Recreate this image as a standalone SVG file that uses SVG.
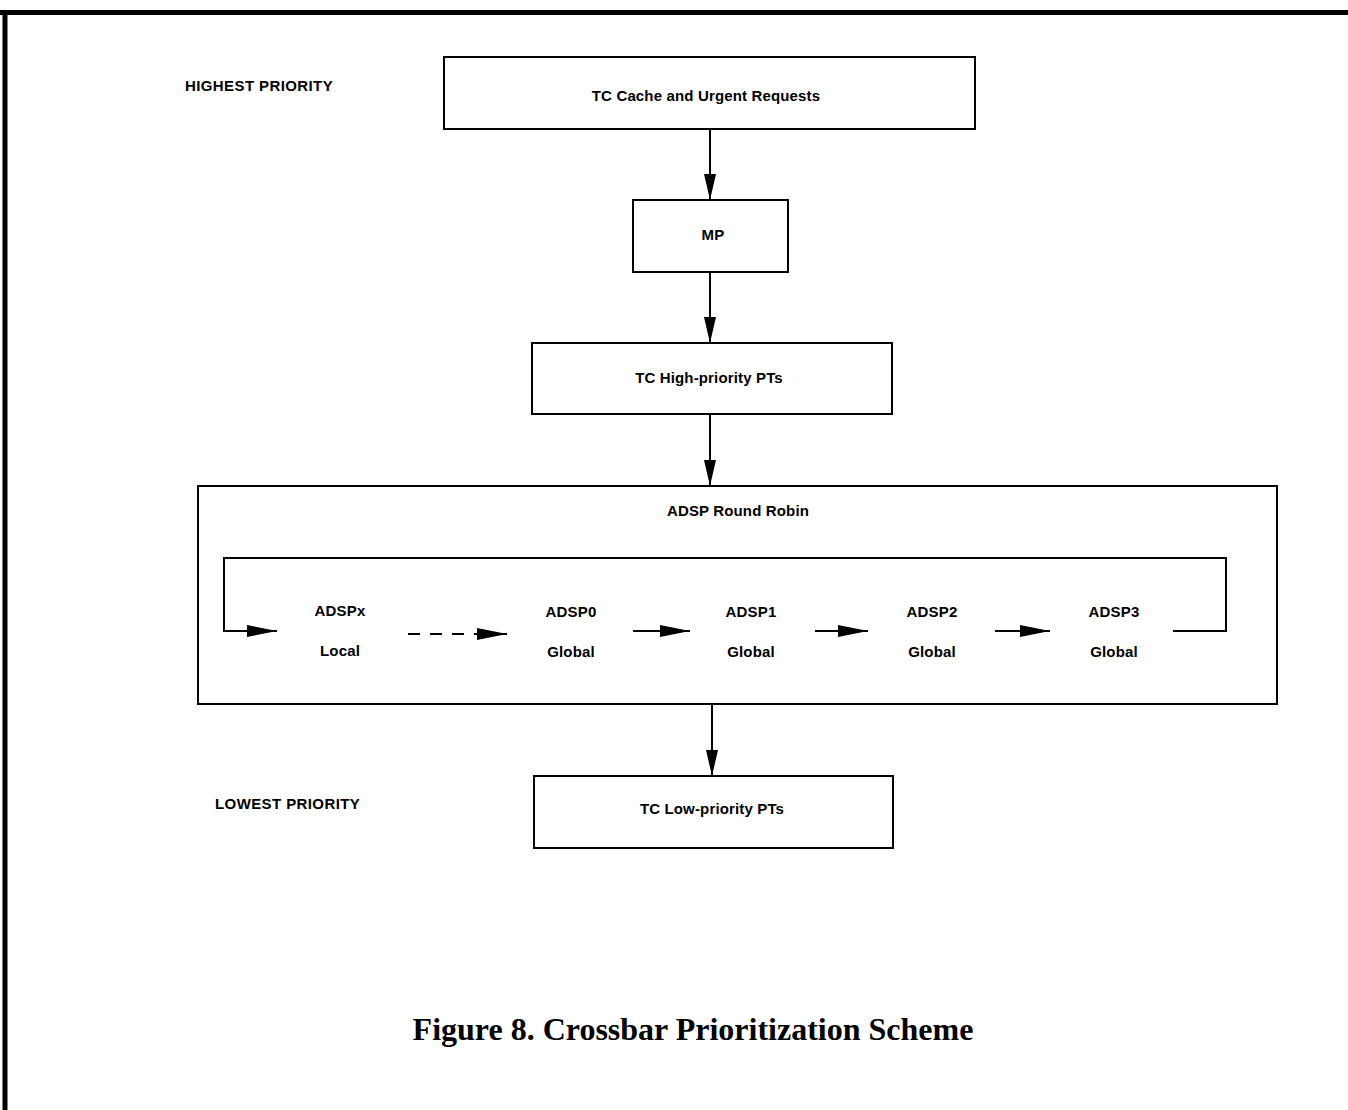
<svg xmlns="http://www.w3.org/2000/svg" width="1348" height="1110" viewBox="0 0 1348 1110">
  <style>
    .box { fill: #fff; stroke: #000; stroke-width: 2; }
    .frame { fill: none; stroke: #000; stroke-width: 2; }
    .lbl { font-family: "Liberation Sans", Arial, sans-serif; font-size: 15px; font-weight: bold; fill: #000; text-anchor: middle; letter-spacing: 0.15px; }
    .side { font-family: "Liberation Sans", Arial, sans-serif; font-size: 15px; font-weight: bold; fill: #000; letter-spacing: 0.4px; }
    .wire { fill: none; stroke: #000; stroke-width: 2; }
    .cap { font-family: "Liberation Serif", "Times New Roman", serif; font-size: 32px; font-weight: bold; fill: #000; text-anchor: middle; }
  </style>
  <defs>
    <marker id="arrow" viewBox="0 0 30 12" refX="30" refY="6" markerWidth="30" markerHeight="12" markerUnits="userSpaceOnUse" orient="auto">
      <path d="M0,0 L30,6 L0,12 Z" fill="#000"/>
    </marker>
    <marker id="arrowV" viewBox="0 0 12 26" refX="6" refY="26" markerWidth="12" markerHeight="26" markerUnits="userSpaceOnUse" orient="0">
      <path d="M0,0 L12,0 L6,26 Z" fill="#000"/>
    </marker>
  </defs>

  <rect width="1348" height="1110" fill="#fff"/>

  <!-- page frame -->
  <g id="page-frame">
    <line x1="0" y1="12.5" x2="1348" y2="12.5" stroke="#000" stroke-width="5"/>
    <line x1="5" y1="10" x2="5" y2="1110" stroke="#000" stroke-width="5"/>
  </g>

  <!-- side labels -->
  <text class="side" x="185" y="91">HIGHEST PRIORITY</text>
  <text class="side" x="215" y="809">LOWEST PRIORITY</text>

  <g id="tc-cache">
    <rect class="box" x="444" y="57" width="531" height="72"/>
    <text class="lbl" x="706" y="101">TC Cache and Urgent Requests</text>
  </g>
  <g id="mp">
    <rect class="box" x="633" y="200" width="155" height="72"/>
    <text class="lbl" x="713" y="240">MP</text>
  </g>
  <g id="tc-high">
    <rect class="box" x="532" y="343" width="360" height="71"/>
    <text class="lbl" x="709" y="383">TC High-priority PTs</text>
  </g>
  <g id="adsp-round-robin">
    <rect class="frame" x="198" y="486" width="1079" height="218"/>
    <text class="lbl" x="738" y="516">ADSP Round Robin</text>
  </g>
  <g id="adspx">
    <text class="lbl" x="340" y="616">ADSPx</text>
    <text class="lbl" x="340" y="656">Local</text>
  </g>
  <g id="adsp0">
    <text class="lbl" x="571" y="617">ADSP0</text>
    <text class="lbl" x="571" y="657">Global</text>
  </g>
  <g id="adsp1">
    <text class="lbl" x="751" y="617">ADSP1</text>
    <text class="lbl" x="751" y="657">Global</text>
  </g>
  <g id="adsp2">
    <text class="lbl" x="932" y="617">ADSP2</text>
    <text class="lbl" x="932" y="657">Global</text>
  </g>
  <g id="adsp3">
    <text class="lbl" x="1114" y="617">ADSP3</text>
    <text class="lbl" x="1114" y="657">Global</text>
  </g>
  <g id="tc-low">
    <rect class="box" x="534" y="776" width="359" height="72"/>
    <text class="lbl" x="712" y="814">TC Low-priority PTs</text>
  </g>

  <g id="connectors">
    <line class="wire" x1="710" y1="129" x2="710" y2="200" marker-end="url(#arrowV)"/>
    <line class="wire" x1="710" y1="272" x2="710" y2="343" marker-end="url(#arrowV)"/>
    <line class="wire" x1="710" y1="414" x2="710" y2="486" marker-end="url(#arrowV)"/>
    <line class="wire" x1="712" y1="704" x2="712" y2="776" marker-end="url(#arrowV)"/>
    <!-- round robin loop back -->
    <polyline class="wire" points="1173,631 1226,631 1226,558 224,558 224,631 277,631" marker-end="url(#arrow)"/>
    <line class="wire" x1="408" y1="634" x2="507" y2="634" stroke-dasharray="12,10" marker-end="url(#arrow)"/>
    <line class="wire" x1="633" y1="631" x2="690" y2="631" marker-end="url(#arrow)"/>
    <line class="wire" x1="815" y1="631" x2="868" y2="631" marker-end="url(#arrow)"/>
    <line class="wire" x1="995" y1="631" x2="1050" y2="631" marker-end="url(#arrow)"/>
  </g>

  <text class="cap" x="693" y="1040">Figure 8. Crossbar Prioritization Scheme</text>
</svg>
